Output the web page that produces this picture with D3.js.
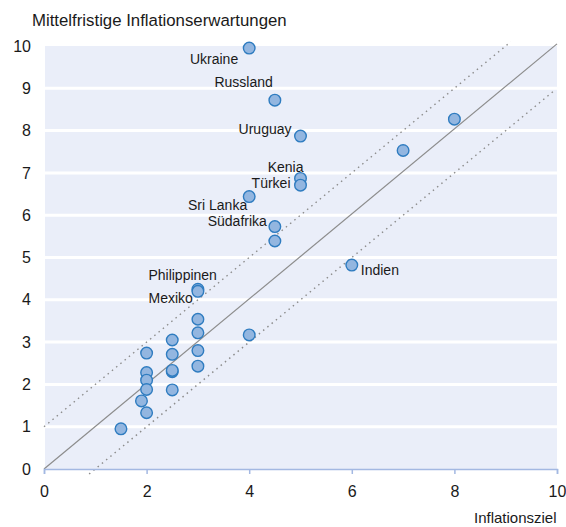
<!DOCTYPE html>
<html><head><meta charset="utf-8">
<script src="https://cdn.jsdelivr.net/npm/d3@7"></script>
<style>
html,body{margin:0;padding:0;background:#fff;}
text{font-family:"Liberation Sans",Arial,sans-serif;fill:#1a1a1a;}
</style></head>
<body><svg id="c" width="566" height="527"></svg>
<script>
// Data
const labelNames = ["Ukraine","Russland","Uruguay","Kenia","Türkei","Sri Lanka","Südafrika","Philippinen","Mexiko","Indien"];
const labelX =     [4,   4.5,  5,    5,    5,    4,    4.5,  3,    3,   6];
const labelY =     [9.95,8.72, 7.87, 6.87, 6.71, 6.44, 5.73, 4.25, 4.2, 4.82];
const otherX = [4.5, 8, 7, 4, 3, 3, 3, 3, 2.5, 2.5, 2.5, 2.5, 2.5, 2, 2, 2, 2, 2, 1.9, 1.5];
const otherY = [5.39, 8.27, 7.53, 3.17, 3.54, 3.22, 2.80, 2.43, 3.05, 2.71, 2.30, 2.33, 1.87, 2.74, 2.28, 2.10, 1.88, 1.33, 1.61, 0.95];
const xTicks = [0, 2, 4, 6, 8, 10];
const yTicks = [0, 1, 2, 3, 4, 5, 6, 7, 8, 9, 10];
const title = "Mittelfristige Inflationserwartungen";
const xTitle = "Inflationsziel";

// label placement (styling)
const labelPlace = {
  "Ukraine":    {a:"end",   dx:-11, dy:16},
  "Russland":   {a:"end",   dx:-2,  dy:-13},
  "Uruguay":    {a:"end",   dx:-9,  dy:-2},
  "Kenia":      {a:"end",   dx:3,   dy:-6},
  "Türkei":     {a:"end",   dx:-10, dy:3},
  "Sri Lanka":  {a:"end",   dx:-2,  dy:13},
  "Südafrika":  {a:"end",   dx:-8,  dy:-1},
  "Philippinen":{a:"end",   dx:19,  dy:-9},
  "Mexiko":     {a:"end",   dx:-5,  dy:12},
  "Indien":     {a:"start", dx:9,   dy:10}
};

const svg = d3.select("#c");
const x = d3.scaleLinear().domain([0,10]).range([44,557]);
const y = d3.scaleLinear().domain([0,10]).range([469,46]);

// background
svg.append("rect").attr("x",x(0)+1).attr("y",y(10)).attr("width",x(10)-x(0)-1).attr("height",y(0)-y(10)).attr("fill","#eaeef9");

// gridlines
svg.append("g").selectAll("line").data(yTicks.filter(d=>d>0 && d<10)).join("line")
  .attr("x1",x(0)+1).attr("x2",x(10)).attr("y1",d=>y(d)).attr("y2",d=>y(d))
  .attr("stroke","#fff").attr("stroke-width",3);

// reference lines
const line = d3.line().x(d=>x(d[0])).y(d=>y(d[1]));
svg.append("path").attr("d",line([[0,0],[10,10.05]])).attr("stroke","#8c8c8c").attr("stroke-width",1.2).attr("fill","none");
svg.append("path").attr("d",line([[0,1],[9.1,10.1]])).attr("stroke","#8c8c8c").attr("stroke-width",1.4).attr("stroke-dasharray","1.5,4").attr("fill","none");
svg.append("path").attr("d",line([[0.88,-0.12],[9.92,8.92]])).attr("stroke","#8c8c8c").attr("stroke-width",1.4).attr("stroke-dasharray","1.5,4").attr("fill","none");

// x axis
const xa = svg.append("g").attr("transform",`translate(0,${y(0)})`)
  .call(d3.axisBottom(x).tickValues(xTicks).tickSize(5).tickPadding(12).tickFormat(d3.format("d")));
xa.select(".domain").attr("stroke","#a3b8e2").attr("stroke-width",1.5);
xa.selectAll(".tick line").attr("stroke","#a3b8e2").attr("stroke-width",1.5);
xa.selectAll("text").attr("font-size",16).attr("fill","#1a1a1a").attr("font-family","Liberation Sans, Arial, sans-serif");

// y axis
const ya = svg.append("g").attr("transform",`translate(31,0)`)
  .call(d3.axisLeft(y).tickValues(yTicks).tickSize(0).tickPadding(0).tickFormat(d3.format("d")));
ya.select(".domain").remove();
ya.selectAll("text").attr("font-size",16).attr("fill","#1a1a1a").attr("font-family","Liberation Sans, Arial, sans-serif");

// titles
svg.append("text").attr("x",32).attr("y",26).attr("font-size",16.8).text(title);
svg.append("text").attr("x",474).attr("y",523).attr("font-size",15).text(xTitle);

// points
const pts = otherX.map((v,i)=>({x:v,y:otherY[i]})).concat(labelNames.map((n,i)=>({x:labelX[i],y:labelY[i],n})));
svg.append("g").selectAll("circle").data(pts).join("circle")
  .attr("cx",d=>x(d.x)).attr("cy",d=>y(d.y)).attr("r",5.8)
  .attr("fill","#93b6e0").attr("stroke","#2f7cc0").attr("stroke-width",1.4);

// labels
svg.append("g").selectAll("text").data(labelNames.map((n,i)=>({n,x:labelX[i],y:labelY[i]}))).join("text")
  .attr("x",d=>x(d.x)+labelPlace[d.n].dx).attr("y",d=>y(d.y)+labelPlace[d.n].dy)
  .attr("text-anchor",d=>labelPlace[d.n].a).attr("font-size",14).text(d=>d.n);
</script></body></html>
